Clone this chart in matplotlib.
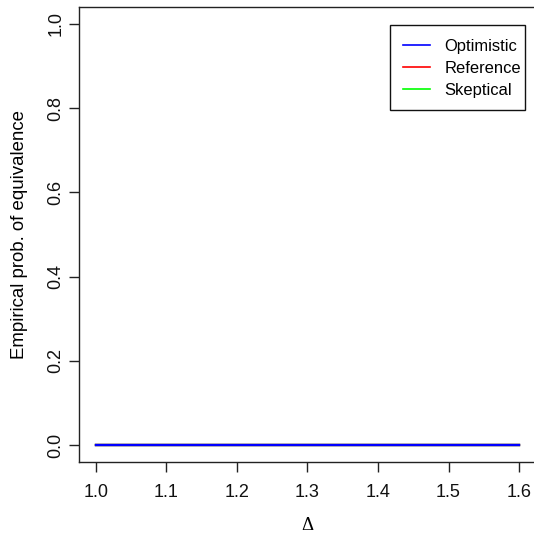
import matplotlib

matplotlib.use("Agg")
import matplotlib.pyplot as plt
from matplotlib.patches import Rectangle
from matplotlib.ticker import FixedLocator

# simulated equivalence probabilities vs. Delta (all zero)
delta = [1.0, 1.1, 1.2, 1.3, 1.4, 1.5, 1.6]
prob_skeptical = [0.0, 0.0, 0.0, 0.0, 0.0, 0.0, 0.0]
prob_reference = [0.0, 0.0, 0.0, 0.0, 0.0, 0.0, 0.0]
prob_optimistic = [0.0, 0.0, 0.0, 0.0, 0.0, 0.0, 0.0]

series_names = ["Optimistic", "Reference", "Skeptical"]
series_colors = ["#0000FF", "#FF0000", "#00FF00"]

x_ticks = [1.0, 1.1, 1.2, 1.3, 1.4, 1.5, 1.6]
y_ticks = [0.0, 0.2, 0.4, 0.6, 0.8, 1.0]

plt.rcParams["font.family"] = ["Liberation Sans", "DejaVu Sans"]

W, H = 534, 536
fig = plt.figure(figsize=(W / 100, H / 100), dpi=100)
# plot box in pixels: left 79, right 536 (just past the edge), top 7, bottom 462
ax = fig.add_axes([79 / W, (H - 462) / H, (536 - 79) / W, (462 - 7) / H])

ax.plot(delta, prob_skeptical, color=series_colors[2], lw=1.7)
ax.plot(delta, prob_reference, color=series_colors[1], lw=1.7)
ax.plot(delta, prob_optimistic, color=series_colors[0], lw=1.7)

# R style 4% padding
ax.set_xlim(1.0 - 0.024, 1.6 + 0.024)
ax.set_ylim(-0.04, 1.04)
ax.xaxis.set_major_locator(FixedLocator(x_ticks))
ax.yaxis.set_major_locator(FixedLocator(y_ticks))
ax.set_xticklabels([f"{v:.1f}" for v in x_ticks])
ax.set_yticklabels([f"{v:.1f}" for v in y_ticks], rotation=90, va="center")

ax.tick_params(direction="out", length=7.5, width=1.0, labelsize=13,
               color="#222222", labelcolor="#111111")
ax.tick_params(axis="x", pad=8.5)
ax.tick_params(axis="y", pad=3)
for s in ax.spines.values():
    s.set_linewidth(1.0)
    s.set_color("#222222")
ax.spines["right"].set_visible(False)

ax.set_xlabel("Δ", fontsize=13.4, family="Liberation Serif", labelpad=11)
ax.set_ylabel("Empirical prob. of equivalence", fontsize=13.4, labelpad=14)

handles = [plt.Line2D([], [], color=c, lw=1.2) for c in series_colors]
leg = ax.legend(handles, series_names,
                loc="upper right", bbox_to_anchor=(521 / W, (H - 39) / H),
                bbox_transform=fig.transFigure, fontsize=11.9,
                frameon=False, handlelength=1.65, handletextpad=0.85,
                labelspacing=0.42, borderpad=0, borderaxespad=0)

# R-style legend box: wide pad on the left, narrow on the right
fig.canvas.draw()
bb = leg.get_window_extent()
x0, x1 = bb.x0 - 13, bb.x1 + 4
y0, y1 = bb.y0 - 12, bb.y1 + 14
fig.patches.append(Rectangle((x0 / W, y0 / H), (x1 - x0) / W, (y1 - y0) / H,
                             transform=fig.transFigure, fill=False,
                             edgecolor="#111111", lw=1.0, zorder=5))

fig.savefig("out.png", dpi=100)
